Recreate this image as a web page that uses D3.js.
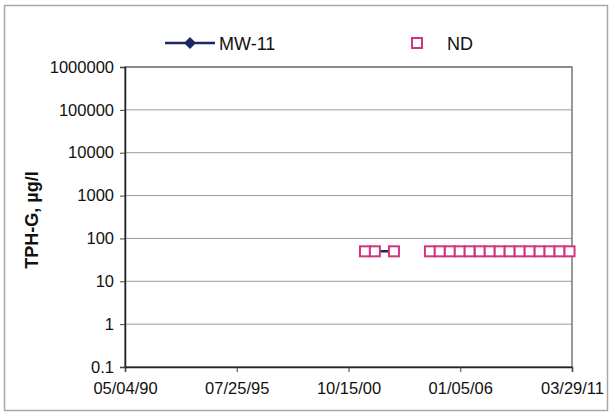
<!DOCTYPE html>
<html><head><meta charset="utf-8">
<script src="https://cdn.jsdelivr.net/npm/d3@7"></script>
<style>body{margin:0;background:#fff}svg{display:block}text{font-family:Arial,"Liberation Sans",sans-serif}</style>
</head><body><svg id="c" width="613" height="416"></svg>
<script>
const xTickLabels = ["05/04/90","07/25/95","10/15/00","01/05/06","03/29/11"];
const yTickValues = [0.1,1,10,100,1000,10000,100000,1000000];
const yTickLabels = ["0.1","1","10","100","1000","10000","100000","1000000"];
// MW-11 sample dates (null separates unconnected runs)
const mw11Dates = ["2001-07-23","2002-01-09","2002-11-30",null,
 "2004-08-05","2005-01-20","2005-07-12","2005-12-28","2006-06-15","2006-12-05","2007-05-24","2007-11-10",
 "2008-04-28","2008-10-16","2009-04-05","2009-09-22","2010-03-10","2010-08-28","2011-02-15"];
const mw11Values = [50,50,50,null,50,50,50,50,50,50,50,50,50,50,50,50,50,50,50];
const ndDates = ["2001-07-23","2002-01-09","2002-11-30",
 "2004-08-05","2005-01-20","2005-07-12","2005-12-28","2006-06-15","2006-12-05","2007-05-24","2007-11-10",
 "2008-04-28","2008-10-16","2009-04-05","2009-09-22","2010-03-10","2010-08-28","2011-02-15"];
const ndValues = [50,50,50,50,50,50,50,50,50,50,50,50,50,50,50,50,50,50];

const parse = d3.timeParse("%Y-%m-%d");
const parseTick = d3.timeParse("%m/%d/%y");
const tickDates = xTickLabels.map(s => { const d = parseTick(s); if (d.getFullYear() > 2050) d.setFullYear(d.getFullYear()-100); return d; });

const svg = d3.select("#c");
const L = 125, R = 572, T = 67, B = 367;
const x = d3.scaleTime().domain([tickDates[0], tickDates[tickDates.length-1]]).range([L, R]);
const y = d3.scaleLog().domain([0.1, 1000000]).range([B, T]);

svg.append("rect").attr("x",4.5).attr("y",5.5).attr("width",603).attr("height",405)
  .attr("fill","none").attr("stroke","#a8a8a8").attr("stroke-width",1.5);

svg.append("g").selectAll("line").data(yTickValues).join("line")
  .attr("x1",L).attr("x2",R).attr("y1",d=>y(d)).attr("y2",d=>y(d))
  .attr("stroke","#9a9a9a").attr("stroke-width",1);

svg.append("rect").attr("x",L).attr("y",T).attr("width",R-L).attr("height",B-T)
  .attr("fill","none").attr("stroke","#777").attr("stroke-width",1.5);

const yAxis = d3.axisLeft(y).tickValues(yTickValues).tickFormat((d,i)=>yTickLabels[i]).tickSize(5).tickPadding(6);
const gy = svg.append("g").attr("transform",`translate(${L},0)`).call(yAxis);
gy.select(".domain").attr("stroke","#222").attr("stroke-width",1.5);
gy.selectAll(".tick line").attr("stroke","#444");
gy.selectAll("text").attr("font-size","16.5px").attr("fill","#111").style("font-family","Arial, 'Liberation Sans', sans-serif");

const xAxis = d3.axisBottom(x).tickValues(tickDates).tickFormat((d,i)=>xTickLabels[i]).tickSize(5).tickPadding(10);
const gx = svg.append("g").attr("transform",`translate(0,${B})`).call(xAxis);
gx.select(".domain").attr("stroke","#222").attr("stroke-width",1.5);
gx.selectAll(".tick line").attr("stroke","#444");
gx.selectAll("text").attr("font-size","16.5px").attr("fill","#111").style("font-family","Arial, 'Liberation Sans', sans-serif");

svg.append("text").attr("transform","translate(38,220) rotate(-90)").attr("text-anchor","middle")
  .attr("font-size","18px").attr("font-weight","bold").attr("fill","#111").text("TPH-G, µg/l");

const navy = "#1c2766", pink = "#d2337e";
const mw = mw11Dates.map((d,i)=>({d: d?parse(d):null, v: mw11Values[i]}));
svg.append("path").datum(mw)
  .attr("d", d3.line().defined(p=>p.d && p.v!=null).x(p=>x(p.d)).y(p=>y(p.v)))
  .attr("fill","none").attr("stroke",navy).attr("stroke-width",2.5);
svg.append("g").selectAll("path").data(mw.filter(p=>p.d)).join("path")
  .attr("transform",p=>`translate(${x(p.d)},${y(p.v)}) rotate(45)`)
  .attr("d", d3.symbol(d3.symbolSquare, 40)).attr("fill",navy);

const nd = ndDates.map((d,i)=>({d: parse(d), v: ndValues[i]}));
svg.append("g").selectAll("rect").data(nd).join("rect")
  .attr("x",p=>x(p.d)-5).attr("y",p=>y(p.v)-5).attr("width",10).attr("height",10)
  .attr("fill","#fff").attr("stroke",pink).attr("stroke-width",2);

const lg = svg.append("g");
lg.append("line").attr("x1",165).attr("x2",215).attr("y1",43).attr("y2",43).attr("stroke",navy).attr("stroke-width",2.5);
lg.append("path").attr("transform","translate(190,43) rotate(45)").attr("d",d3.symbol(d3.symbolSquare,72)).attr("fill",navy);
lg.append("text").attr("x",219).attr("y",50).attr("font-size","18px").attr("fill","#111").text("MW-11");
lg.append("rect").attr("x",412).attr("y",38).attr("width",10).attr("height",10).attr("fill","#fff").attr("stroke",pink).attr("stroke-width",2);
lg.append("text").attr("x",447).attr("y",50).attr("font-size","18px").attr("fill","#111").text("ND");
</script></body></html>
